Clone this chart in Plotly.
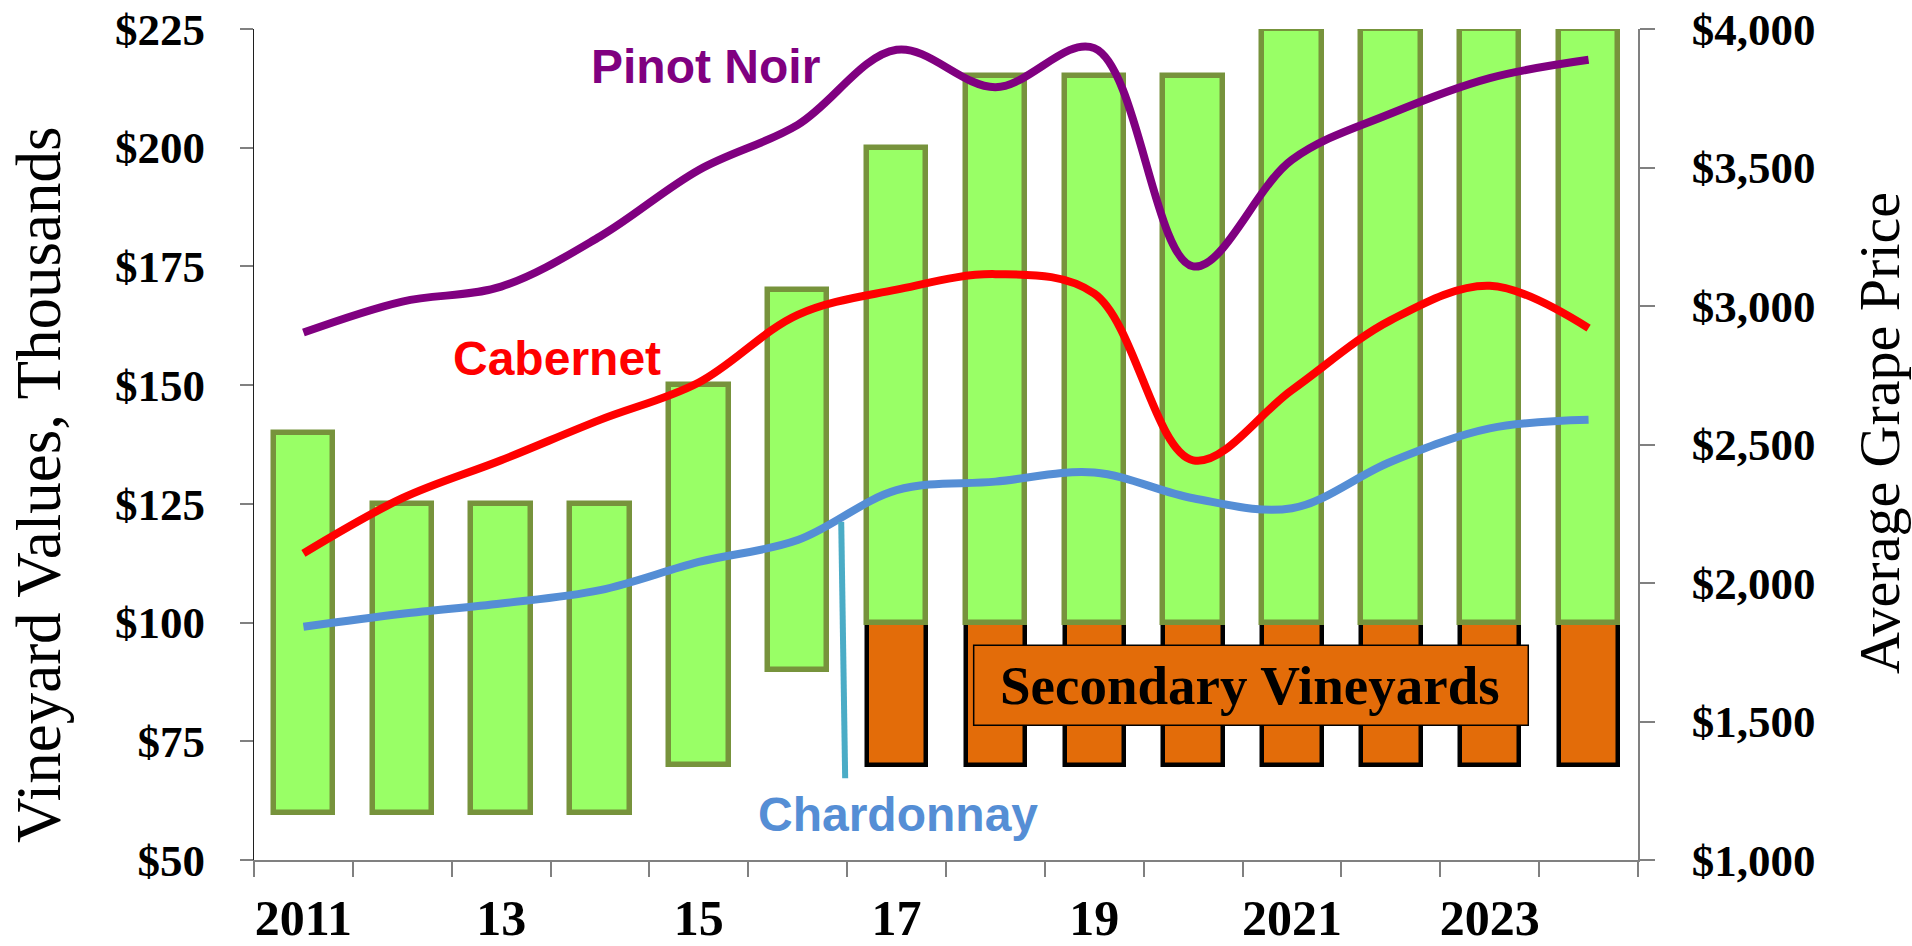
import plotly.graph_objects as go

# ---------------- data ----------------
years = [2011, 2012, 2013, 2014, 2015, 2016, 2017, 2018, 2019, 2020, 2021, 2022, 2023, 2024]
prime_low = [60, 60, 60, 60, 70, 90, 100, 100, 100, 100, 100, 100, 100, 100]
prime_high = [140, 125, 125, 125, 150, 170, 200, 215, 215, 215, 225, 225, 225, 225]

secondary_years = [2017, 2018, 2019, 2020, 2021, 2022, 2023, 2024]
secondary_low = [70, 70, 70, 70, 70, 70, 70, 70]
secondary_high = [100, 100, 100, 100, 100, 100, 100, 100]

pinot_noir = [2904, 3016, 3070, 3251, 3491, 3654, 3925, 3790, 3931, 3143, 3528, 3695, 3823, 3889]
cabernet = [2107, 2306, 2443, 2589, 2724, 2968, 3059, 3115, 3045, 2443, 2697, 2949, 3073, 2920]
chardonnay = [1842, 1889, 1926, 1974, 2076, 2155, 2335, 2366, 2399, 2306, 2270, 2438, 2558, 2589]

x_tick_vals = [2011, 2013, 2015, 2017, 2019, 2021, 2023]
x_tick_text = ["2011", "13", "15", "17", "19", "2021", "2023"]

# ---------------- styles ----------------
SERIF = "Liberation Serif"
SANS = "Liberation Sans"
GREEN = "#99FF66"
GREEN_EDGE = "#77933C"
ORANGE = "#E36C09"
PURPLE = "#800080"
RED = "#FF0000"
BLUE = "#558ED5"
TEAL = "#4BACC6"

fig = go.Figure()

fig.add_trace(go.Bar(
    x=secondary_years,
    y=[h - l for h, l in zip(secondary_high, secondary_low)],
    base=secondary_low,
    width=0.6,
    marker=dict(color=ORANGE, line=dict(color="black", width=4.5)),
    yaxis="y", hoverinfo="skip",
))
fig.add_trace(go.Bar(
    x=years,
    y=[h - l for h, l in zip(prime_high, prime_low)],
    base=prime_low,
    width=0.6,
    marker=dict(color=GREEN, line=dict(color=GREEN_EDGE, width=5.5)),
    yaxis="y", hoverinfo="skip",
))

for vals, col in [(chardonnay, BLUE), (cabernet, RED), (pinot_noir, PURPLE)]:
    fig.add_trace(go.Scatter(
        x=years, y=vals, mode="lines", yaxis="y2",
        line=dict(color=col, width=8, shape="spline", smoothing=1.0),
        hoverinfo="skip",
    ))

tick_font = dict(family=SERIF, size=45, color="black", weight="bold")

fig.update_layout(
    width=1912, height=946, autosize=False,
    margin=dict(l=254, r=274, t=29, b=86, pad=0),
    paper_bgcolor="white", plot_bgcolor="white",
    barmode="overlay", bargap=0, showlegend=False,
    xaxis=dict(
        range=[2010.5, 2024.5], tickvals=x_tick_vals, ticktext=x_tick_text,
        ticks="", showgrid=False, zeroline=False, automargin=False,
        showline=True, linecolor="#808080", linewidth=2,
        tickfont=dict(family=SERIF, size=50, color="black", weight="bold"),
        ticklabelstandoff=13,
        minor=dict(tick0=2010.5, dtick=1, ticks="outside", ticklen=15,
                   tickcolor="#808080", tickwidth=1.5, showgrid=False),
    ),
    yaxis=dict(
        range=[50, 225], dtick=25, tickprefix="$", automargin=False,
        ticks="outside", ticklen=13, tickwidth=1.5, tickcolor="#808080",
        showline=True, linecolor="#202020", linewidth=1.2,
        showgrid=False, zeroline=False, tickfont=tick_font,
        ticklabelstandoff=26,
    ),
    yaxis2=dict(
        range=[1000, 4000], dtick=500, tickprefix="$", tickformat=",d",
        overlaying="y", side="right", automargin=False,
        ticks="outside", ticklen=15, tickwidth=1.5, tickcolor="#808080",
        showline=True, linecolor="#808080", linewidth=1.5,
        showgrid=False, zeroline=False, tickfont=tick_font,
        ticklabelstandoff=28,
    ),
)

# axis titles (pixel centres converted to paper units of the plot area)
PLOT_L, PLOT_W = 254, 1912 - 254 - 274
PLOT_T, PLOT_H = 29, 946 - 29 - 86


def px_to_paper(px, py):
    return (px - PLOT_L) / PLOT_W, 1 - (py - PLOT_T) / PLOT_H


lx, ly = px_to_paper(39, 485)
rx, ry = px_to_paper(1880, 433)
fig.add_annotation(text="Vineyard Values, Thousands", xref="paper", yref="paper",
                   x=lx, y=ly, xanchor="center", yanchor="middle",
                   textangle=-90, showarrow=False,
                   font=dict(family=SERIF, size=63, color="black"))
fig.add_annotation(text="Average Grape Price", xref="paper", yref="paper",
                   x=rx, y=ry, xanchor="center", yanchor="middle",
                   textangle=-90, showarrow=False,
                   font=dict(family=SERIF, size=58, color="black"))

# series labels
for txt, xx, yy, col in [("Pinot Noir", 2015.07, 217.0, PURPLE),
                         ("Cabernet", 2013.56, 155.7, RED),
                         ("Chardonnay", 2017.01, 59.5, BLUE)]:
    fig.add_annotation(text=txt, x=xx, y=yy, xref="x", yref="y",
                       showarrow=False, xanchor="center", yanchor="middle",
                       font=dict(family=SANS, size=48, color=col, weight="bold"))

# Chardonnay pointer
fig.add_shape(type="line", xref="x", yref="y", x0=2016.44, y0=121.2, x1=2016.48, y1=67.2,
              line=dict(color=TEAL, width=6), layer="above")

# Secondary Vineyards box
fig.add_shape(type="rect", xref="x", yref="y", x0=2017.78, x1=2023.39, y0=78.4, y1=95.24,
              fillcolor=ORANGE, line=dict(color="black", width=1.5), layer="above")
fig.add_annotation(text="Secondary Vineyards", x=2020.58, y=86.8, xref="x", yref="y",
                   showarrow=False, xanchor="center", yanchor="middle",
                   font=dict(family=SERIF, size=55, color="black", weight="bold"))

fig.write_html("out.html",
               config={"displayModeBar": False},
               post_script="document.body.style.margin='0px';document.body.style.overflow='hidden';")
